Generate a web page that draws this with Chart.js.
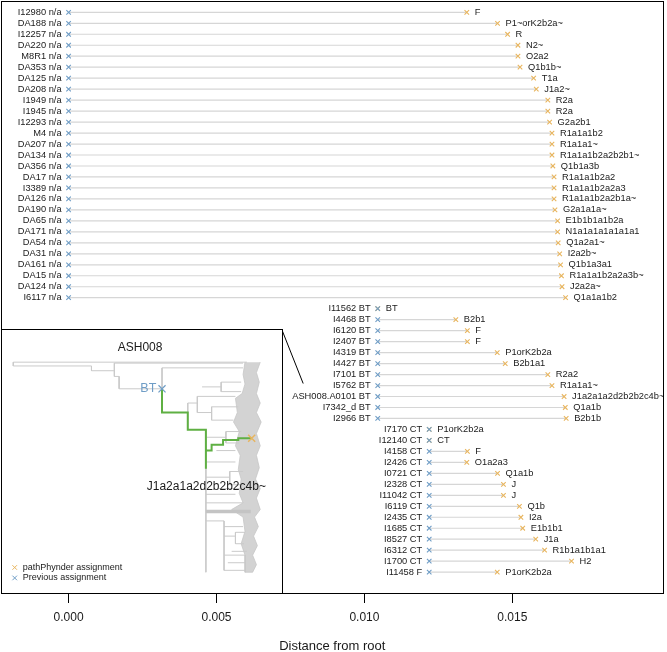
<!DOCTYPE html>
<html>
<head>
<meta charset="utf-8">
<script src="https://cdn.jsdelivr.net/npm/chart.js@4.4.1/dist/chart.umd.min.js"></script>
<style>
  body { margin: 0; background: #fff; }
  #wrap { position: relative; width: 667px; height: 652px; }
  #inset { position: absolute; left: 1px; top: 329px; width: 282px; height: 265px;
           box-sizing: border-box; border: 1px solid #000; background: #fff; }
  #inset canvas { position: absolute; left: 0; top: 0; }
</style>
</head>
<body>
<div id="wrap">
  <canvas id="main" width="667" height="652"></canvas>
  <div id="inset"><canvas id="tree" width="280" height="263"></canvas></div>
</div>
<script>
// samples, top to bottom
const samples = ['I12980','DA188','I12257','DA220','M8R1','DA353','DA125','DA208','I1949','I1945',
  'I12293','M4','DA207','DA134','DA356','DA17','I3389','DA126','DA190','DA65','DA171','DA54','DA31',
  'DA161','DA15','DA124','I6117',
  'I11562','I4468','I6120','I2407','I4319','I4427','I7101','I5762','ASH008.A0101','I7342_d','I2966',
  'I7170','I12140','I4158','I2426','I0721','I2328','I11042','I6119','I2435','I1685','I8527','I6312',
  'I1700','I11458'];

const previousHg = ['n/a','n/a','n/a','n/a','n/a','n/a','n/a','n/a','n/a','n/a','n/a','n/a','n/a',
  'n/a','n/a','n/a','n/a','n/a','n/a','n/a','n/a','n/a','n/a','n/a','n/a','n/a','n/a',
  'BT','BT','BT','BT','BT','BT','BT','BT','BT','BT','BT',
  'CT','CT','CT','CT','CT','CT','CT','CT','CT','CT','CT','CT','CT','F'];

const previousDist = [0,0,0,0,0,0,0,0,0,0,0,0,0,0,0,0,0,0,0,0,0,0,0,0,0,0,0,
  0.01045,0.01045,0.01045,0.01045,0.01045,0.01045,0.01045,0.01045,0.01045,0.01045,0.01045,
  0.01219,0.01219,0.01219,0.01219,0.01219,0.01219,0.01219,0.01219,0.01219,0.01219,0.01219,
  0.01219,0.01219,0.01219];

const assignedHg = ['F','P1~orK2b2a~','R','N2~','O2a2','Q1b1b~','T1a','J1a2~','R2a','R2a','G2a2b1',
  'R1a1a1b2','R1a1a1~','R1a1a1b2a2b2b1~','Q1b1a3b','R1a1a1b2a2','R1a1a1b2a2a3','R1a1a1b2a2b1a~',
  'G2a1a1a~','E1b1b1a1b2a','N1a1a1a1a1a1a1','Q1a2a1~','I2a2b~','Q1b1a3a1','R1a1a1b2a2a3b~','J2a2a~',
  'Q1a1a1b2',
  'BT','B2b1','F','F','P1orK2b2a','B2b1a1','R2a2','R1a1a1~','J1a2a1a2d2b2b2c4b~','Q1a1b','B2b1b',
  'P1orK2b2a','CT','F','O1a2a3','Q1a1b','J','J','Q1b','I2a','E1b1b1','J1a','R1b1a1b1a1','H2',
  'P1orK2b2a'];

const assignedDist = [0.01346,0.01450,0.01484,0.01519,0.01519,0.01526,0.01572,0.01581,0.01620,
  0.01620,0.01626,0.01634,0.01634,0.01634,0.01637,0.01641,0.01641,0.01641,0.01644,0.01653,0.01653,
  0.01655,0.01660,0.01663,0.01666,0.01668,0.01680,
  0.01045,0.01309,0.01348,0.01348,0.01449,0.01476,0.01620,0.01634,0.01675,0.01679,0.01682,
  0.01219,0.01219,0.01348,0.01346,0.01450,0.01470,0.01470,0.01524,0.01529,0.01535,0.01579,
  0.01609,0.01700,0.01449];

const tickValues = [0, 0.005, 0.010, 0.015];

// inset tree (ASH008 placement), in inset plot units
const treeBranches = [
  [7,357,7,361],[7,357,252,357],[7,361,89,361],[89,361,89,366],[89,366,113,366],
  [113,358,113,372],[113,358,248,358],[113,372,118,372],[118,372,118,385],[118,385,163,385],
  [163,363,163,410],[163,363,248,363],[190,400,190,428],[190,400,200,400],[200,393,200,410],
  [200,393,240,393],[200,410,215,410],[215,404,215,418],[215,404,243,404],[215,418,238,418],
  [209,428,209,578],[209,436,230,436],[230,430,230,442],[230,430,246,430],[230,442,244,442],
  [209,462,240,462],[209,478,234,478],[234,472,234,486],[234,472,248,472],[234,486,246,486],
  [209,496,240,496],[209,505,248,505],[209,524,228,524],[228,524,228,576],[228,530,248,530],
  [228,540,240,540],[240,536,240,548],[240,536,250,536],[240,548,249,548],[228,560,250,560],
  [228,576,250,576],[205,383,225,383],[225,378,225,388],[225,378,246,378],[225,388,246,388],
  [220,450,240,450],[222,490,244,490],[236,556,252,556],[232,568,250,568]
];
const treeBand = [[209,514,256,514]];
const tipMass = [[250,357],[248,370],[250,380],[247,390],[240,395],[242,410],[238,420],[244,430],
  [240,445],[245,455],[243,470],[246,480],[244,495],[248,505],[236,512],[248,520],[250,535],
  [246,548],[250,560],[250,578],[258,578],[262,570],[258,560],[263,550],[259,540],[264,530],
  [260,520],[266,512],[262,500],[266,490],[261,480],[265,468],[262,455],[266,445],[262,432],
  [267,420],[262,410],[266,400],[262,390],[265,378],[262,368],[266,357]];
const greenPath = [
  [[163,385],[163,410],[190,410],[190,428],[209,428],[209,469]],
  [[209,450],[215,450],[215,444],[227,444],[227,439],[243,439],[243,437],[257,437]]
];
const insetPrevious = [163, 385];
const insetAssigned = [257, 437];

const blue = '#6f9dc6';
const orange = '#e8b55e';
const font = '"Liberation Sans", Arial, Helvetica, sans-serif';
const insetBox = { left: 1, top: 329, width: 282, height: 265 };

// connectors: one segment per row, broken by a gap point
const connectorData = [];
samples.forEach((s, i) => {
  connectorData.push({ x: previousDist[i], y: i }, { x: assignedDist[i], y: i }, { x: assignedDist[i], y: null });
});

const rowLabels = {
  id: 'rowLabels',
  afterDatasetsDraw(chart) {
    const { ctx, scales: { x, y } } = chart;
    ctx.save();
    ctx.font = '9.3px ' + font;
    ctx.fillStyle = '#1a1a1a';
    ctx.textBaseline = 'middle';
    samples.forEach((s, i) => {
      const py = y.getPixelForValue(i);
      ctx.textAlign = 'right';
      ctx.fillText(s + ' ' + previousHg[i], x.getPixelForValue(previousDist[i]) - 7, py);
      ctx.textAlign = 'left';
      ctx.fillText(assignedHg[i], x.getPixelForValue(assignedDist[i]) + 8, py);
    });

    // frame around the plot
    const a = chart.chartArea;
    ctx.strokeStyle = '#000';
    ctx.lineWidth = 1;
    ctx.strokeRect(Math.round(a.left) + 0.5, Math.round(a.top) + 0.5,
      Math.round(a.right - a.left) - 1, Math.round(a.bottom - a.top));

    // pointer from the inset to the ASH008 row
    const k = samples.indexOf('ASH008.A0101');
    const label = samples[k] + ' ' + previousHg[k];
    const left = x.getPixelForValue(previousDist[k]) - 7 - ctx.measureText(label).width;
    ctx.beginPath();
    ctx.moveTo(insetBox.left + insetBox.width - 1, insetBox.top + 1);
    ctx.lineTo(left + 11, y.getPixelForValue(k) - 13);
    ctx.stroke();
    ctx.restore();
  }
};

new Chart(document.getElementById('main'), {
  type: 'scatter',
  data: {
    datasets: [
      { label: 'Previous assignment', data: samples.map((s, i) => ({ x: previousDist[i], y: i })),
        pointStyle: 'crossRot', pointRadius: 3.2, borderColor: blue, backgroundColor: blue, borderWidth: 1.1 },
      { label: 'pathPhynder assignment', data: samples.map((s, i) => ({ x: assignedDist[i], y: i })),
        pointStyle: 'crossRot', pointRadius: 3.2, borderColor: orange, backgroundColor: orange, borderWidth: 1.1 },
      { data: connectorData, showLine: true, spanGaps: false, pointRadius: 0,
        borderColor: '#d6d6d6', borderWidth: 1.2 }
    ]
  },
  options: {
    responsive: false,
    animation: false,
    events: [],
    layout: { autoPadding: false, padding: { left: 1, right: 3.5, top: 1, bottom: 0 } },
    plugins: { legend: { display: false }, tooltip: { enabled: false } },
    scales: {
      x: {
        type: 'linear', min: -0.002285, max: 0.02011,
        afterBuildTicks: s => { s.ticks = tickValues.map(v => ({ value: v })); },
        afterFit: s => { s.height = 59; },
        grid: { drawOnChartArea: false, drawTicks: true, tickLength: 10, color: '#000', tickWidth: 1 },
        border: { display: false },
        ticks: { padding: 7.5, color: '#1a1a1a', font: { size: 12, family: font }, callback: v => v.toFixed(3) },
        title: { display: true, text: 'Distance from root', color: '#1a1a1a',
                 font: { size: 13, family: font, lineHeight: 0.85 }, padding: { top: 0, bottom: 0 } }
      },
      y: { type: 'linear', min: -1.03, max: 52.9, reverse: true, display: false }
    }
  },
  plugins: [rowLabels]
});

// ---- inset tree ----
const segData = segs => segs.flatMap(([x1, y1, x2, y2]) =>
  [{ x: x1, y: y1 }, { x: x2, y: y2 }, { x: x2, y: null }]);
const pathData = paths => paths.flatMap(p =>
  p.map(([x, y]) => ({ x, y })).concat([{ x: p[p.length - 1][0], y: null }]));

const insetText = {
  id: 'insetText',
  afterDatasetsDraw(chart) {
    const { ctx, scales: { x, y } } = chart;
    ctx.save();
    ctx.textBaseline = 'middle';
    ctx.font = '12px ' + font;
    ctx.fillStyle = '#1a1a1a';
    ctx.textAlign = 'center';
    ctx.fillText('ASH008', x.getPixelForValue(140), y.getPixelForValue(342));
    ctx.textAlign = 'left';
    ctx.fillText('J1a2a1a2d2b2b2c4b~', x.getPixelForValue(147), y.getPixelForValue(488));
    ctx.textAlign = 'right';
    ctx.fillStyle = blue;
    ctx.font = '12.5px ' + font;
    ctx.fillText('BT', x.getPixelForValue(157), y.getPixelForValue(385));

    // legend
    const items = [['pathPhynder assignment', orange, 573], ['Previous assignment', blue, 584]];
    ctx.font = '9px ' + font;
    ctx.textAlign = 'left';
    items.forEach(([t, c, yy]) => {
      const px = x.getPixelForValue(8.5), py = y.getPixelForValue(yy);
      ctx.strokeStyle = c;
      ctx.lineWidth = 1;
      ctx.beginPath();
      ctx.moveTo(px - 2.3, py - 2.3); ctx.lineTo(px + 2.3, py + 2.3);
      ctx.moveTo(px + 2.3, py - 2.3); ctx.lineTo(px - 2.3, py + 2.3);
      ctx.stroke();
      ctx.fillStyle = '#1a1a1a';
      ctx.fillText(t, x.getPixelForValue(17), py);
    });
    ctx.restore();
  }
};

new Chart(document.getElementById('tree'), {
  type: 'scatter',
  data: {
    datasets: [
      { data: [{ x: insetPrevious[0], y: insetPrevious[1] }], pointStyle: 'crossRot', pointRadius: 5,
        borderColor: blue, borderWidth: 1.2 },
      { data: [{ x: insetAssigned[0], y: insetAssigned[1] }], pointStyle: 'crossRot', pointRadius: 5,
        borderColor: orange, borderWidth: 1.5 },
      { data: pathData(greenPath), showLine: true, spanGaps: false, pointRadius: 0,
        borderColor: '#5fb043', borderWidth: 2 },
      { data: segData(treeBand), showLine: true, spanGaps: false, pointRadius: 0,
        borderColor: '#c4c4c4', borderWidth: 3.5 },
      { data: segData(treeBranches), showLine: true, spanGaps: false, pointRadius: 0,
        borderColor: '#cacaca', borderWidth: 1 },
      { data: tipMass.map(([x, y]) => ({ x, y })), showLine: true, pointRadius: 0, fill: 'shape',
        backgroundColor: '#d3d3d3', borderColor: '#c6c6c6', borderWidth: 0.8 }
    ]
  },
  options: {
    responsive: false,
    animation: false,
    events: [],
    layout: { padding: 0 },
    plugins: { legend: { display: false }, tooltip: { enabled: false } },
    scales: {
      x: { type: 'linear', min: 2, max: 282, display: false },
      y: { type: 'linear', min: 330, max: 593, reverse: true, display: false }
    }
  },
  plugins: [insetText]
});
</script>
</body>
</html>
